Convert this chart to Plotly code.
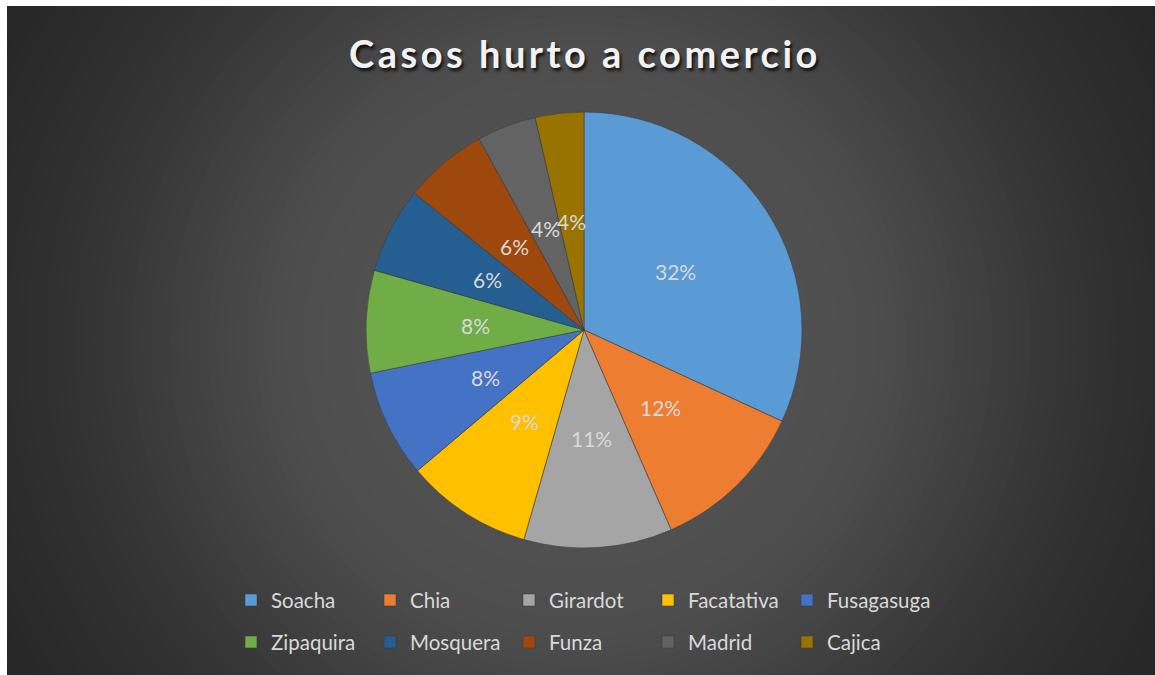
import math
import plotly.graph_objects as go

# ---- data -----------------------------------------------------------------
municipios = ["Soacha", "Chia", "Girardot", "Facatativa", "Fusagasuga",
              "Zipaquira", "Mosquera", "Funza", "Madrid", "Cajica"]
casos = [319, 116, 110, 94, 80, 76, 64, 62, 44, 36]

colores = ["#5B9BD5", "#ED7D31", "#A5A5A5", "#FFC000", "#4472C4",
           "#70AD47", "#255E91", "#9E480E", "#636363", "#997300"]

# ---- layout geometry (pixels) -----------------------------------------------
W, H = 1155, 675
ML, MR = 230, 205              # plot area 720 px wide -> legend wraps at 5 entries
PW = W - ML - MR
CX, CY, R = 584, 330, 218      # pie centre and radius
LEGEND_STEP = 139              # column pitch of the legend, px


def px_x(x):
    return (x - ML) / PW


def px_y(y):
    return 1 - y / H


fig = go.Figure()

fig.add_trace(go.Pie(
    labels=[f"<span style='font-size:20.5px;baseline-shift:4px'>{m}</span>"
            for m in municipios],
    values=casos,
    sort=False,
    direction="clockwise",
    rotation=0,
    textinfo="none",
    marker=dict(colors=colores, line=dict(color="rgba(60,60,60,0.8)", width=0.7)),
    domain=dict(x=[px_x(CX - R), px_x(CX + R)], y=[px_y(CY + R), px_y(CY - R)]),
    hovertemplate="%{label}: %{value} (%{percent})<extra></extra>",
))

# ---- percentage labels at half radius along each slice's mid angle ---------
total = sum(casos)
annotations = []
acc = 0.0
for v in casos:
    mid = (acc + v / 2) / total * 2 * math.pi
    acc += v
    lx = CX + 0.5 * R * math.sin(mid)
    ly = CY - 0.5 * R * math.cos(mid)
    annotations.append(dict(
        x=px_x(lx), y=px_y(ly), xref="paper", yref="paper",
        text=f"{round(v / total * 100)}%", showarrow=False,
        font=dict(family="Lato", size=21, color="#D9D9D9"),
        xanchor="center", yanchor="middle",
    ))

# ---- radial background gradient --------------------------------------------
BX0, BY0 = 7, 6                 # chart area starts here, white strip outside
GX, GY = (BX0 + W) / 2, (BY0 + H) / 2
stops = [(0, 88), (300, 77), (470, 55), (550, 47), (670, 38)]


def shade(r):
    for (r0, c0), (r1, c1) in zip(stops, stops[1:]):
        if r <= r1:
            t = (r - r0) / (r1 - r0)
            return round(c0 + (c1 - c0) * t)
    return stops[-1][1]


shapes = [dict(type="rect", xref="paper", yref="paper", layer="below",
               x0=px_x(BX0), x1=px_x(W), y0=px_y(H), y1=px_y(BY0),
               fillcolor="rgb(38,38,38)", line=dict(width=0))]
N = 70
for i in range(N):
    r = 670 * (1 - i / N)
    c = shade(r)
    shapes.append(dict(type="circle", xref="paper", yref="paper", layer="below",
                       x0=px_x(GX - r), x1=px_x(GX + r),
                       y0=px_y(GY + r), y1=px_y(GY - r),
                       fillcolor=f"rgb({c},{c},{c})", line=dict(width=0)))
# white margins to the top and left of the chart area
shapes.append(dict(type="rect", xref="paper", yref="paper", layer="below",
                   x0=px_x(0), x1=px_x(W), y0=px_y(BY0), y1=px_y(-5),
                   fillcolor="white", line=dict(width=0)))
shapes.append(dict(type="rect", xref="paper", yref="paper", layer="below",
                   x0=px_x(-5), x1=px_x(BX0), y0=px_y(H + 5), y1=px_y(0),
                   fillcolor="white", line=dict(width=0)))

fig.update_layout(
    width=W, height=H,
    margin=dict(l=ML, r=MR, t=0, b=0, autoexpand=False),
    paper_bgcolor="white",
    title=dict(
        text="<span style='letter-spacing:3.5px'><b>Casos hurto a comercio</b></span>",
        x=585 / W, y=1 - 55 / H, xref="container", yref="container",
        xanchor="center", yanchor="middle",
        font=dict(family="Lato", size=38, color="#F2F2F2",
                  shadow="2px 3px 3px rgba(0,0,0,0.75)"),
    ),
    showlegend=True,
    legend=dict(
        orientation="h",
        x=px_x(231), y=px_y(574), xanchor="left", yanchor="top",
        entrywidth=LEGEND_STEP / PW, entrywidthmode="fraction",
        font=dict(family="Lato", size=30, color="#D9D9D9"),
        bgcolor="rgba(0,0,0,0)", traceorder="normal",
    ),
    annotations=annotations,
    shapes=shapes,
)

fig.write_html("out.html")
